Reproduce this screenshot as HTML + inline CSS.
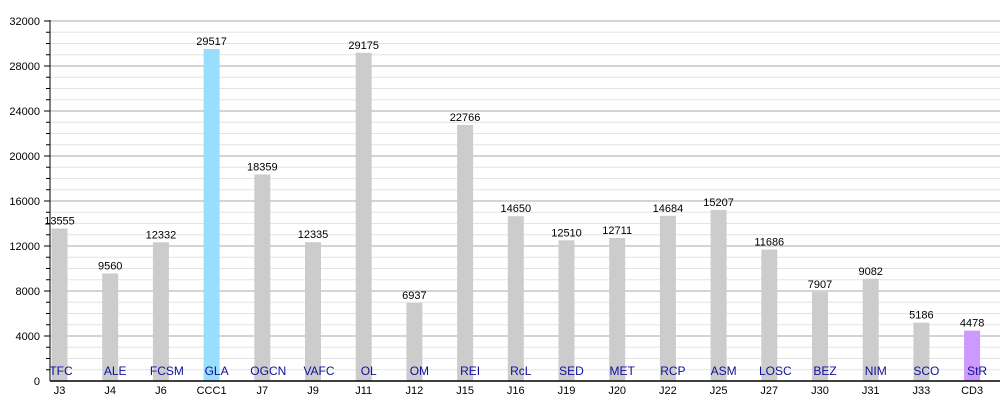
<!DOCTYPE html><html><head><style>body{margin:0;background:#fff}svg{font-family:"Liberation Sans",sans-serif}</style></head><body>
<svg width="1000" height="400" xmlns="http://www.w3.org/2000/svg" id="s"></svg>
<script>
var s=document.getElementById('s'),h='';
var y0=381,k=360/32000;
for(var v=1000;v<=32000;v+=1000){var y=y0-v*k;var maj=v%4000==0;
h+='<line x1="50" x2="1000" y1="'+y+'" y2="'+y+'" stroke="'+(maj?'#a8a8a8':'#e4e4e4')+'" stroke-width="1"/>';
h+='<line x1="'+(maj?44:46)+'" x2="50" y1="'+y+'" y2="'+y+'" stroke="#000"/>';
if(maj)h+='<text x="40" y="'+(y+4)+'" font-size="11" text-anchor="end">'+v+'</text>';}
h+='<text x="40" y="'+(y0+4)+'" font-size="11" text-anchor="end">0</text>';
var d=[["J3","TFC",13555],["J4","ALE",9560],["J6","FCSM",12332],["CCC1","GLA",29517],["J7","OGCN",18359],["J9","VAFC",12335],["J11","OL",29175],["J12","OM",6937],["J15","REI",22766],["J16","RcL",14650],["J19","SED",12510],["J20","MET",12711],["J22","RCP",14684],["J25","ASM",15207],["J27","LOSC",11686],["J30","BEZ",7907],["J31","NIM",9082],["J33","SCO",5186],["CD3","StR",4478]];
d.forEach(function(e,i){var x=51.5+i*50.7,t=y0-e[2]*k,c=e[0]=="CCC1"?'#99ddff':e[0]=="CD3"?'#cc99ff':'#cccccc';
h+='<rect x="'+x+'" y="'+t+'" width="16" height="'+(y0-t)+'" fill="'+c+'"/>';
h+='<text x="'+(x+8)+'" y="'+(t-4)+'" font-size="11" text-anchor="middle">'+e[2]+'</text>';
var lx=Math.max(x+13,x+e[1].length*3.5);if(i==0)lx=61;
h+='<text x="'+lx+'" y="375" font-size="12" fill="#10109a" text-anchor="middle">'+e[1]+'</text>';
h+='<text x="'+(x+8)+'" y="394" font-size="11" text-anchor="middle">'+e[0]+'</text>';});
h+='<line x1="50" x2="50" y1="20" y2="381" stroke="#000"/><line x1="50" x2="1000" y1="381" y2="381" stroke="#000" stroke-width="1.5"/>';
s.innerHTML=h;
</script></body></html>
